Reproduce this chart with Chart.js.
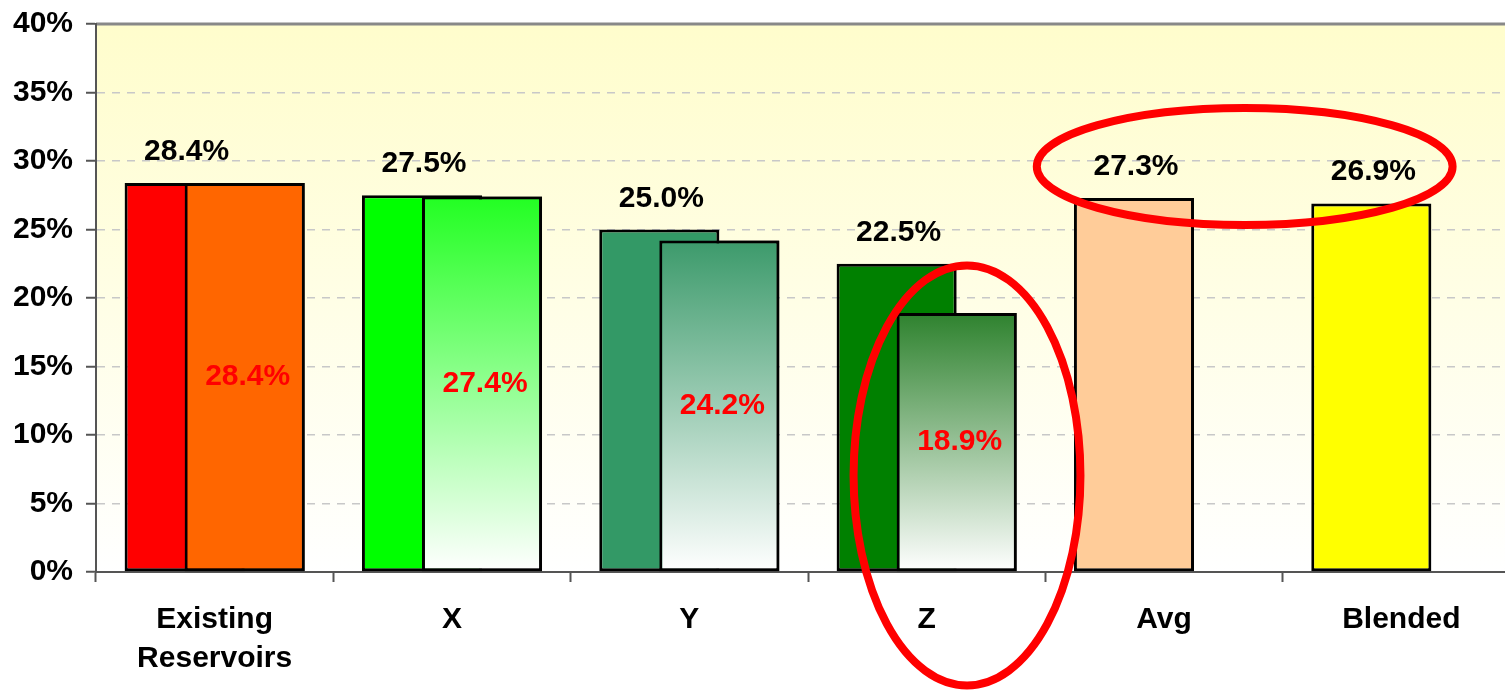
<!DOCTYPE html>
<html>
<head>
<meta charset="utf-8">
<script src="https://cdn.jsdelivr.net/npm/chart.js@4.4.1/dist/chart.umd.min.js"></script>
<style>
  body { margin: 0; background: #fff; }
  #frame { width: 1505px; height: 690px; overflow: hidden; position: relative; }
  #inner { width: 1530px; height: 690px; }
</style>
</head>
<body>
<div id="frame"><div id="inner"><canvas id="myChart"></canvas></div></div>
<script>
// categories and values
var categories = [['Existing', 'Reservoirs'], 'X', 'Y', 'Z', 'Avg', 'Blended'];
var firstValues = [28.4, 27.5, 25.0, 22.5, 27.3, 26.9];
var secondValues = [28.4, 27.4, 24.2, 18.9, null, null];
var yMin = 0, yMax = 40, yStep = 5;

// colours
var firstColors = ['#FF0000', '#00FF00', '#339966', '#008000', '#FFCC99', '#FFFF00'];
var secondTopColors = ['#FF6600', '#22FF22', '#3C9A6B', '#2E822E', '#FFFFFF', '#FFFFFF'];
var secondBottomColors = ['#FF6600', '#FFFFFF', '#FFFFFF', '#FFFFFF', '#FFFFFF', '#FFFFFF'];

// red rings, in category index / value units
var rings = [
  { at: 4.34, value: 29.6, rx: 0.876, ry: 4.27 },
  { at: 3.17, value: 7.05, rx: 0.478, ry: 15.33 }
];

var FONT = 'bold 30px "Liberation Sans", Arial, sans-serif';

function secondFill(context) {
  var chart = context.chart;
  var i = context.dataIndex;
  if (!chart.chartArea || !chart.scales.y) return secondTopColors[i];
  var v = secondValues[i];
  if (v == null) return secondTopColors[i];
  var top = chart.scales.y.getPixelForValue(v);
  var bottom = chart.scales.y.getPixelForValue(0);
  var g = chart.ctx.createLinearGradient(0, top, 0, bottom);
  g.addColorStop(0, secondTopColors[i]);
  g.addColorStop(1, secondBottomColors[i]);
  return g;
}

var backdrop = {
  id: 'backdrop',
  beforeDraw: function (chart) {
    var a = chart.chartArea, ctx = chart.ctx;
    var g = ctx.createLinearGradient(0, a.top, 0, a.bottom);
    g.addColorStop(0, '#FFFDCC');
    g.addColorStop(1, '#FFFFFF');
    ctx.save();
    ctx.fillStyle = g;
    ctx.fillRect(a.left, a.top, a.right - a.left, a.bottom - a.top);
    ctx.strokeStyle = '#888888';
    ctx.lineWidth = 3;
    ctx.beginPath();
    ctx.moveTo(a.left, a.top);
    ctx.lineTo(a.right, a.top);
    ctx.stroke();
    ctx.restore();
  }
};

var labelsAndRings = {
  id: 'labelsAndRings',
  afterDatasetsDraw: function (chart) {
    // the second series sits in front of the first one
    chart.getDatasetMeta(1).controller.draw();
    var ctx = chart.ctx;
    ctx.save();
    ctx.font = FONT;
    ctx.textAlign = 'center';
    chart.getDatasetMeta(0).data.forEach(function (bar, i) {
      ctx.fillStyle = '#000000';
      ctx.textBaseline = 'alphabetic';
      ctx.fillText(firstValues[i].toFixed(1) + '%', bar.x + 2, bar.y - 23);
    });
    chart.getDatasetMeta(1).data.forEach(function (bar, i) {
      if (secondValues[i] == null) return;
      ctx.fillStyle = '#FF0000';
      ctx.textBaseline = 'middle';
      ctx.fillText(secondValues[i].toFixed(1) + '%', bar.x + 3, (bar.y + bar.base) / 2);
    });
    ctx.restore();
  },
  afterDraw: function (chart) {
    var ctx = chart.ctx, x = chart.scales.x, y = chart.scales.y;
    var cw = x.getPixelForValue(1) - x.getPixelForValue(0);
    ctx.save();
    ctx.strokeStyle = '#FF0000';
    ctx.lineWidth = 8;
    rings.forEach(function (r) {
      var cx = x.getPixelForValue(r.at);
      var cy = y.getPixelForValue(r.value);
      var ry = y.getPixelForValue(0) - y.getPixelForValue(r.ry);
      ctx.beginPath();
      ctx.ellipse(cx, cy, r.rx * cw, ry, 0, 0, Math.PI * 2);
      ctx.stroke();
    });
    ctx.restore();
  }
};

var ctx = document.getElementById('myChart').getContext('2d');
var myChart = new Chart(ctx, {
  type: 'bar',
  data: {
    labels: categories,
    datasets: [{
      data: firstValues,
      backgroundColor: firstColors,
      borderColor: '#000000',
      borderWidth: 3,
      borderSkipped: false
    }, {
      data: secondValues,
      backgroundColor: secondFill,
      borderColor: '#000000',
      borderWidth: 3,
      borderSkipped: false
    }]
  },
  options: {
    responsive: true,
    maintainAspectRatio: false,
    animation: false,
    categoryPercentage: 0.506,
    barPercentage: 2.0,
    layout: { padding: { top: 24, right: 10, left: 0, bottom: 0 } },
    plugins: {
      legend: { display: false },
      tooltip: { enabled: false }
    },
    scales: {
      x: {
        grid: {
          offset: true,
          drawOnChartArea: false,
          tickLength: 10,
          tickColor: '#555555',
          tickWidth: 2
        },
        border: { color: '#555555', width: 2 },
        ticks: {
          color: '#000000',
          padding: 18,
          maxRotation: 0,
          autoSkip: false,
          font: { family: '"Liberation Sans", Arial, sans-serif', size: 30, weight: 'bold', lineHeight: 1.3 }
        },
        afterFit: function (scale) { scale.height = 118; }
      },
      y: {
        min: yMin,
        max: yMax,
        grid: {
          color: function (c) {
            var v = c.tick ? c.tick.value : null;
            return (v === yMin || v === yMax) ? 'rgba(0,0,0,0)' : '#C8C8C8';
          },
          lineWidth: 1.5,
          tickLength: 10,
          tickColor: '#555555',
          tickWidth: 2,
          tickBorderDash: []
        },
        border: { color: '#555555', width: 2, dash: [8, 7] },
        ticks: {
          stepSize: yStep,
          padding: 13,
          color: '#000000',
          font: { family: '"Liberation Sans", Arial, sans-serif', size: 30, weight: 'bold' },
          callback: function (v) { return v + '%'; }
        },
        afterFit: function (scale) {
          scale.width = 96;
          scale.paddingTop = 0;
          scale.paddingBottom = 0;
        }
      }
    }
  },
  plugins: [backdrop, labelsAndRings]
});
</script>
</body>
</html>
